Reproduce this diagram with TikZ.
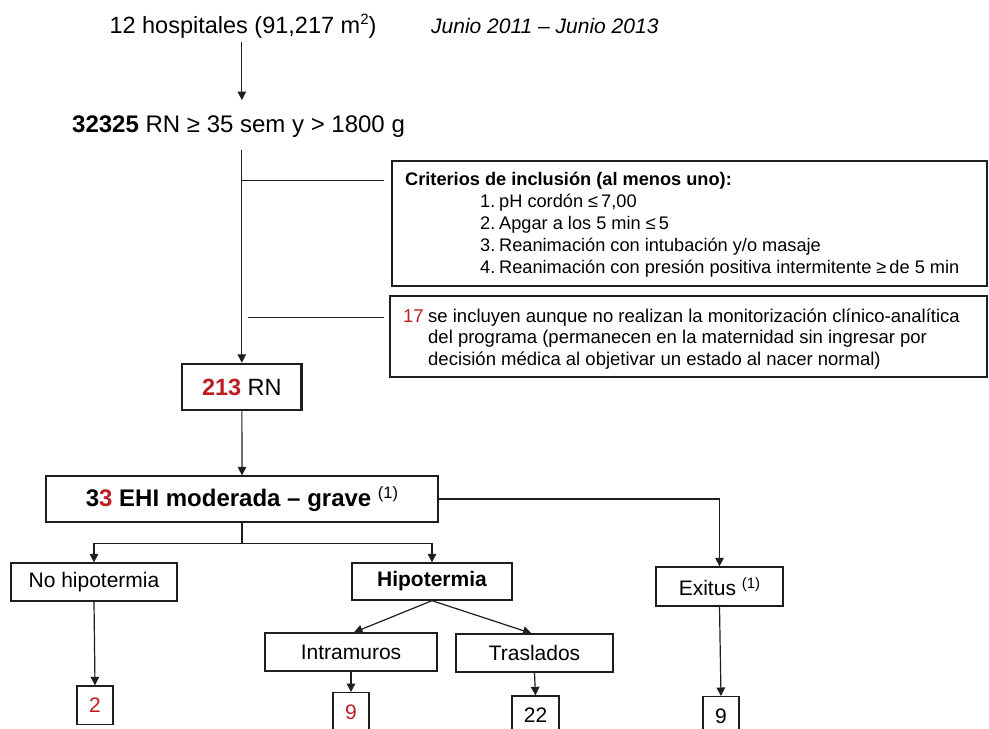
\documentclass[tikz,border=0pt]{standalone}
\usepackage{fontspec}
\setmainfont{Liberation Sans}
\usetikzlibrary{arrows.meta}
\definecolor{rd}{RGB}{190,30,35}
\definecolor{ln}{RGB}{30,30,30}
\newcommand\FsTitle{\fontsize{23.5}{28}\selectfont}
\newcommand\FsPop{\fontsize{24}{28}\selectfont}
\newcommand\FsDate{\fontsize{21}{25}\selectfont\itshape}
\newcommand\FsMid{\fontsize{21}{25}\selectfont}
\newcommand\FsBox{\fontsize{18.2}{22}\selectfont}
\newcommand\FsNote{\fontsize{18.5}{22}\selectfont}
\newcommand\MySup[3]{\raisebox{#2pt}{\fontsize{#1}{#1}\selectfont\mdseries #3}}
\begin{document}
\begin{tikzpicture}[x=1pt,y=-1pt,
  txt/.style={inner sep=0pt, text=black},
  box/.style={draw=ln, line width=1.3pt, rectangle, inner sep=0pt, text=black},
  arr/.style={draw=ln, line width=1.2pt, -{Triangle[length=8.5pt,width=8.5pt]}},
  con/.style={draw=ln, line width=1.2pt},
]
\useasboundingbox (0,0) rectangle (989,729);
\fill[white] (0,0) rectangle (989,729);

% top texts
\node[txt, anchor=base] (title) at (243,33) {\FsTitle 12 hospitales (91,217 m\MySup{15}{9}{2})};
\node[txt, anchor=base west] (dates) at (431,33) {\FsDate Junio 2011 – Junio 2013};
\node[txt, anchor=base west] (pop) at (72,132) {\FsPop\textbf{32325} RN ≥ 35 sem y > 1800 g};

% criteria box
\node[box, line width=1.6pt, minimum width=595pt, minimum height=124.7pt] (crit) at (689.5,223.35) {};
\node[txt, anchor=base west] (crith) at (405,185.5) {\FsBox\bfseries Criterios de inclusión (al menos uno):};
\node[txt, anchor=base west] (cn1) at (480,207.5) {\FsBox 1.};
\node[txt, anchor=base west] (ct1) at (499,207.5) {\FsBox pH cordón ≤\,7,00};
\node[txt, anchor=base west] (cn2) at (480,229.5) {\FsBox 2.};
\node[txt, anchor=base west] (ct2) at (499,229.5) {\FsBox Apgar a los 5 min ≤\,5};
\node[txt, anchor=base west] (cn3) at (480,251.5) {\FsBox 3.};
\node[txt, anchor=base west] (ct3) at (499,251.5) {\FsBox Reanimación con intubación y/o masaje};
\node[txt, anchor=base west] (cn4) at (480,273.5) {\FsBox 4.};
\node[txt, anchor=base west] (ct4) at (499,273.5) {\FsBox Reanimación con presión positiva intermitente ≥\,de 5 min};

% note box
\node[box, line width=1.6pt, minimum width=597pt, minimum height=80.7pt] (note) at (688.5,336.35) {};
\node[txt, anchor=base west] (n17) at (403,322) {\FsNote\textcolor{rd}{17}};
\node[txt, anchor=base west] (note1) at (428,322) {\FsNote se incluyen aunque no realizan la monitorización clínico-analítica};
\node[txt, anchor=base west] (note2) at (428,343.5) {\FsNote del programa (permanecen en la maternidad sin ingresar por};
\node[txt, anchor=base west] (note3) at (428,365.5) {\FsNote decisión médica al objetivar un estado al nacer normal)};

% flow boxes
\node[box, line width=2.5pt, minimum width=119.7pt, minimum height=46pt] (rn) at (241.85,387) {\FsTitle\textbf{\textcolor{rd}{213}} RN};
\node[box, minimum width=392pt, minimum height=46pt] (ehi) at (242,499) {\FsPop\textbf{3\textcolor{rd}{3} EHI moderada – grave} \MySup{16.5}{7.5}{(1)}};
\node[box, minimum width=166pt, minimum height=38pt] (nohipo) at (94,582) {\FsMid No hipotermia};
\node[box, minimum width=160pt, minimum height=37pt] (hipo) at (432,581.5) {\FsMid\bfseries Hipotermia};
\node[box, minimum width=127pt, minimum height=39pt] (exitus) at (719.5,586.5) {\FsMid Exitus \MySup{15}{6.5}{(1)}};
\node[box, minimum width=172pt, minimum height=38pt] (intra) at (351,652) {\FsMid Intramuros};
\node[box, minimum width=157pt, minimum height=38pt] (trasl) at (534.5,653) {\FsMid Traslados};
\node[box, minimum width=36pt, minimum height=38.7pt] (n2) at (95,705.35) {\FsMid\textcolor{rd}{2}};
\node[box, minimum width=36pt, minimum height=38.7pt] (n9a) at (351,712) {\FsMid\textcolor{rd}{9}};
\node[box, minimum width=47pt, minimum height=38.7pt] (n22) at (535.5,715.35) {\FsMid 22};
\node[box, minimum width=36pt, minimum height=38.7pt] (n9b) at (721,716) {\FsMid 9};

% connectors
\draw[arr] ([yshift=-4pt]title.south -| rn.north) -- ([yshift=15pt]pop.north -| rn.north);
\draw[arr] ([yshift=-13pt]pop.south -| rn.north) -- (rn.north);
\draw[con] (rn.north |- crith.west) -- ([xshift=-7pt]crit.west |- crith.west);
\draw[con] ([xshift=6pt]rn.north |- note1.west) -- ([xshift=-5pt]note.west |- note1.west);
\draw[arr] (rn.south) -- (ehi.north);
\draw[arr] (ehi.east) -| (exitus.north);
\draw[con] (ehi.south) -- ([yshift=-20.7pt]ehi.south);
\draw[arr] ([yshift=-20.7pt]ehi.south) -| (nohipo.north);
\draw[arr] ([yshift=-20.7pt]ehi.south) -| (hipo.north);
\draw[arr] (hipo.south) -- ([xshift=3pt]intra.north);
\draw[arr] (hipo.south) -- ([xshift=-3pt]trasl.north);
\draw[arr] (nohipo.south) -- (n2.north);
\draw[arr] (intra.south) -- (n9a.north);
\draw[arr] (trasl.south) -- (n22.north);
\draw[arr] (exitus.south) -- (n9b.north);
\end{tikzpicture}
\end{document}
